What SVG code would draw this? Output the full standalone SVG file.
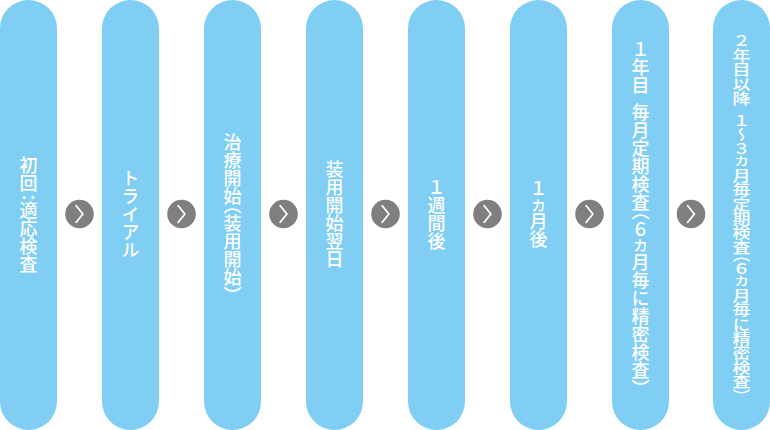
<svg xmlns="http://www.w3.org/2000/svg" width="770" height="430" viewBox="0 0 770 430">
<style>
.pill{fill:#80cef3}
.lbl{fill:#fff;font-family:"Noto Sans CJK JP","Noto Sans",sans-serif;font-size:18px;font-weight:500;writing-mode:vertical-rl;text-anchor:middle}
.h{font-feature-settings:"vhal" 1}
.k{font-size:15px}
.btn{fill:#7f7f7f}
.chev{fill:none;stroke:#fff;stroke-width:1.8;stroke-linecap:round;stroke-linejoin:round}
</style>
<defs>
<g id="arrow"><circle class="btn" r="14.3"/><polyline class="chev" points="-3.3,-8.2 3.4,0 -3.3,8.2"/></g>
</defs>
<g id="step1"><rect class="pill" x="0" y="0" width="57" height="430" rx="28.5"/><text class="lbl" x="28.5" y="215">初回<tspan class="h">：</tspan>適応検査</text></g>
<g id="step2"><rect class="pill" x="102" y="0" width="57" height="430" rx="28.5"/><text class="lbl" x="130.5" y="214">トライアル</text></g>
<g id="step3"><rect class="pill" x="204" y="0" width="57" height="430" rx="28.5"/><text class="lbl" x="232.5" y="214">治療開始<tspan class="h">（</tspan>装用開始<tspan class="h">）</tspan></text></g>
<g id="step4"><rect class="pill" x="306" y="0" width="57" height="430" rx="28.5"/><text class="lbl" x="334.5" y="214">装用開始翌日</text></g>
<g id="step5"><rect class="pill" x="408" y="0" width="57" height="430" rx="28.5"/><text class="lbl" x="436.5" y="214">１週間後</text></g>
<g id="step6"><rect class="pill" x="510" y="0" width="57" height="430" rx="28.5"/><text class="lbl" x="538.5" y="214">１<tspan class="k">カ</tspan>月後</text></g>
<g id="step7"><rect class="pill" x="612" y="0" width="57" height="430" rx="28.5"/><text class="lbl" x="640.5" y="214">１年目&#x2002;毎月定期検査<tspan class="h">（</tspan>６<tspan class="k">カ</tspan>月毎に精密検査<tspan class="h">）</tspan></text></g>
<g id="step8"><rect class="pill" x="713" y="0" width="57" height="430" rx="28.5"/><text class="lbl" transform="translate(741.5,215) scale(1,0.8)">２年目以降&#x2002;１～３<tspan class="k">カ</tspan>月毎定期検査<tspan class="h">（</tspan>６<tspan class="k">カ</tspan>月毎に精密検査<tspan class="h">）</tspan></text></g>
<g id="connectors">
<use href="#arrow" x="79.5" y="214"/>
<use href="#arrow" x="181.5" y="214"/>
<use href="#arrow" x="283.5" y="214"/>
<use href="#arrow" x="385.5" y="214"/>
<use href="#arrow" x="487.5" y="214"/>
<use href="#arrow" x="589.5" y="214"/>
<use href="#arrow" x="691" y="214"/>
</g>
</svg>
